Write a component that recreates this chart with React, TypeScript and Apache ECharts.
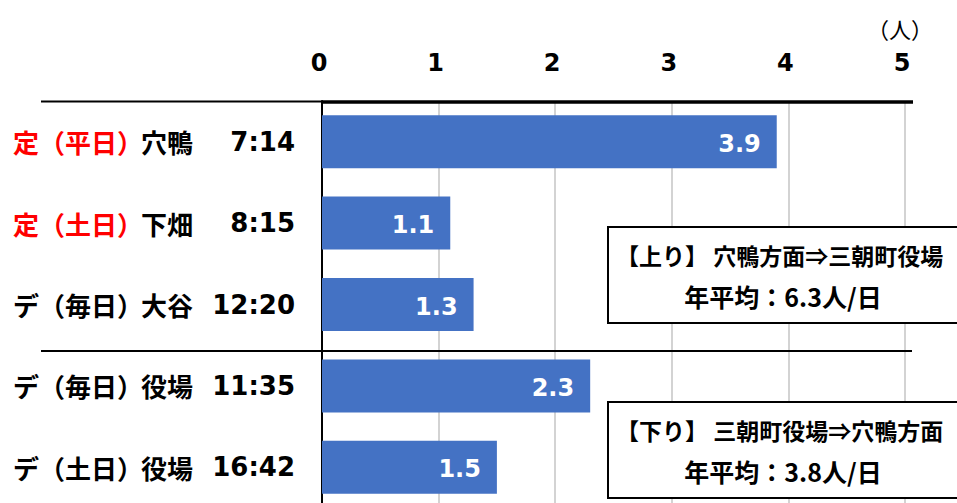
import React, { useEffect, useRef } from "react";
import * as echarts from "echarts";

// Bus service rows (top to bottom)
const services = ["定", "定", "デ", "デ", "デ"];
const dayTypes = ["（平日）", "（土日）", "（毎日）", "（毎日）", "（土日）"];
const stops = ["穴鴨", "下畑", "大谷", "役場", "役場"];
const times = ["7:14", "8:15", "12:20", "11:35", "16:42"];
// Average riders per trip (人)
const riders = [3.9, 1.1, 1.3, 2.3, 1.5];

const xTicks = { min: 0, max: 5, interval: 1 };
const unitLabel = "（人）";

const upTitle = "【上り】 穴鴨方面⇒三朝町役場";
const upAverage = "年平均：6.3人/日";
const downTitle = "【下り】 三朝町役場⇒穴鴨方面";
const downAverage = "年平均：3.8人/日";

const CJK = "'Noto Sans CJK JP', sans-serif";
const LATIN = "'DejaVu Sans', 'Noto Sans CJK JP', sans-serif";

const categories = services.map((s, i) => `${s}${dayTypes[i]}${stops[i]} ${times[i]}`);

export default function App() {
  const ref = useRef<HTMLDivElement>(null);

  useEffect(() => {
    if (!ref.current) return;
    const chart = echarts.init(ref.current, null, { renderer: "svg" });

    const labelBase = { fontSize: 26, fontWeight: "bold", fontFamily: CJK, color: "#000" };

    const infoBox = (top: number, title: string, avg: string) => ({
      type: "group",
      children: [
        {
          type: "rect",
          shape: { x: 608, y: top, width: 380, height: 96 },
          style: { fill: "#fff", stroke: "#000", lineWidth: 2 },
          z: 10,
        },
        {
          type: "text",
          x: 616,
          y: top + 28,
          style: {
            text: title,
            fontSize: 23,
            fontWeight: "bold",
            fontFamily: CJK,
            fill: "#000",
            textAlign: "left",
            textVerticalAlign: "middle",
          },
          z: 11,
        },
        {
          type: "text",
          x: 783,
          y: top + 69,
          style: {
            text: avg,
            fontSize: 25,
            fontWeight: "bold",
            fontFamily: CJK,
            fill: "#000",
            textAlign: "center",
            textVerticalAlign: "middle",
          },
          z: 11,
        },
      ],
    });

    chart.setOption({
      animation: false,
      backgroundColor: "#fff",
      grid: { left: 322, width: 583, top: 101, height: 407, containLabel: false },
      xAxis: {
        type: "value",
        position: "top",
        min: xTicks.min,
        max: xTicks.max,
        interval: xTicks.interval,
        axisLine: { show: false },
        axisTick: { show: false },
        axisLabel: {
          margin: 26,
          padding: [0, 6, 0, 0],
          fontSize: 24,
          fontWeight: "bold",
          fontFamily: LATIN,
          color: "#000",
        },
        splitLine: { show: true, lineStyle: { color: "#c4c4c4", width: 1.5 } },
      },
      yAxis: {
        type: "category",
        inverse: true,
        data: categories,
        axisLine: { show: true, lineStyle: { color: "#000", width: 2 } },
        axisTick: { show: false },
        axisLabel: {
          margin: 309,
          align: "left",
          formatter: (_v: string, i: number) => {
            const prefix = services[i] === "定" ? "r" : "k";
            return `{${prefix}|${services[i]}${dayTypes[i]}}{n|${stops[i]}}{t|${times[i]}}`;
          },
          rich: {
            r: { ...labelBase, color: "#ff0000", width: 128, align: "left" },
            k: { ...labelBase, width: 128, align: "left" },
            n: { ...labelBase, width: 54, align: "left" },
            t: { ...labelBase, fontFamily: LATIN, width: 100, align: "right" },
          },
        },
      },
      series: [
        {
          type: "bar",
          data: riders,
          barWidth: 53,
          itemStyle: { color: "#4472C4" },
          label: {
            show: true,
            position: "insideRight",
            distance: 16,
            offset: [0, 2],
            color: "#fff",
            fontSize: 24,
            fontWeight: "bold",
            fontFamily: LATIN,
            formatter: (p: any) => p.value.toFixed(1),
          },
        },
      ],
      graphic: [
        // heavy rule across the top of the table
        {
          type: "line",
          shape: { x1: 41, y1: 101.5, x2: 322, y2: 101.5 },
          style: { stroke: "#000", lineWidth: 2 },
          z: 5,
        },
        {
          type: "line",
          shape: { x1: 322, y1: 102, x2: 913, y2: 102 },
          style: { stroke: "#000", lineWidth: 3.5 },
          z: 5,
        },
        // divider between up and down services
        {
          type: "line",
          shape: { x1: 41, y1: 351, x2: 912, y2: 351 },
          style: { stroke: "#000", lineWidth: 2 },
          z: 5,
        },
        {
          type: "text",
          x: 900,
          y: 28,
          style: {
            text: unitLabel,
            fontSize: 22,
            fontFamily: CJK,
            fill: "#000",
            textAlign: "center",
            textVerticalAlign: "middle",
          },
        },
        infoBox(227, upTitle, upAverage),
        infoBox(402, downTitle, downAverage),
      ],
    });

    return () => chart.dispose();
  }, []);

  // the chart canvas is a little taller than the visible frame, so the last row is cut off at the bottom
  return (
    <div
      style={{
        position: "absolute",
        left: 0,
        top: 0,
        width: 957,
        height: 503,
        overflow: "hidden",
      }}
    >
      <div ref={ref} style={{ width: 957, height: 512 }} />
    </div>
  );
}
